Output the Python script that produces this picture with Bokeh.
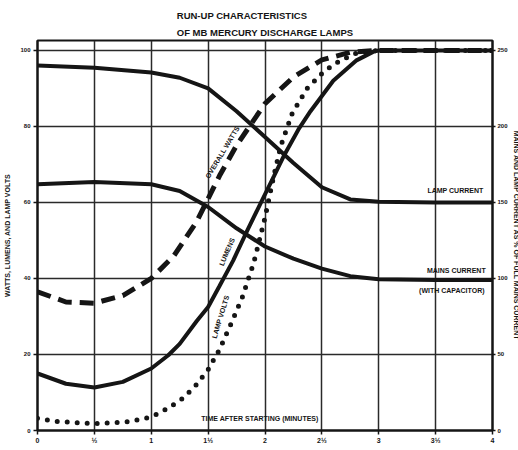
from bokeh.plotting import figure
from bokeh.models import Range1d, LinearAxis, FixedTicker, Label, Title
from bokeh.embed import file_html
from bokeh.resources import INLINE

# ---------------- data ----------------
# time after starting (minutes)
x_ticks = [0, 0.5, 1, 1.5, 2, 2.5, 3, 3.5, 4]
x_tick_labels = ["0", "½", "1", "1½", "2", "2½", "3", "3½", "4"]
left_ticks = [0, 20, 40, 60, 80, 100]
right_ticks = [0, 50, 100, 150, 200, 250]

# overall watts (% , left axis) - dashed
watts_t = [0, 0.25, 0.5, 0.75, 1.0, 1.2, 1.4, 1.5, 1.6, 1.75, 2.0, 2.25, 2.5, 2.75, 3.0, 4.0]
watts_v = [36.5, 33.8, 33.5, 35.5, 40, 46, 55, 61, 67, 75, 86, 93, 97.5, 99.5, 100, 100]

# lumens (% , left axis) - solid
lumens_t = [0, 0.25, 0.5, 0.75, 1.0, 1.15, 1.25, 1.4, 1.5, 1.6, 1.72, 1.85, 1.96, 2.08,
            2.17, 2.3, 2.4, 2.6, 2.8, 2.95, 3.0, 4.0]
lumens_v = [15, 12.3, 11.3, 12.8, 16.3, 19.8, 22.8, 28.8, 32.5, 38, 44.7, 53, 59.7, 67,
            72.5, 79.5, 84, 92, 97.3, 99.6, 100, 100]

# lamp volts (% , left axis) - dotted
volts_t = [0, 0.15, 0.5, 0.8, 0.95, 1.05, 1.15, 1.28, 1.39, 1.5, 1.6, 1.7, 1.8, 1.9, 2.0,
           2.07, 2.14, 2.24, 2.37, 2.52, 2.66, 2.8, 3.0, 4.0]
volts_v = [3.2, 2.4, 1.8, 2.3, 3.2, 4.3, 5.9, 8.5, 11.8, 16, 21.3, 28, 35, 44, 56,
           66, 75, 83.5, 90, 94.5, 97.3, 99.2, 100, 100]

# lamp current (% of full mains current, right axis) - solid
lampcur_t = [0, 0.5, 1.0, 1.25, 1.5, 1.75, 2.0, 2.25, 2.5, 2.75, 3.0, 3.5, 4.0]
lampcur_v = [240, 238.5, 235.5, 232, 225, 210, 193, 176, 160, 152, 150.5, 150, 150]

# mains current with capacitor (% , right axis) - solid
mains_t = [0, 0.5, 1.0, 1.25, 1.5, 1.75, 2.0, 2.25, 2.5, 2.75, 3.0, 3.5, 4.0]
mains_v = [162, 163.5, 162, 157.5, 147, 133, 121, 113, 106.5, 101.5, 99.5, 99, 99]

FONT = "Liberation Sans"
INK = "#151515"

p = figure(frame_width=455, frame_height=390, x_range=Range1d(0, 4), y_range=Range1d(0, 102.6),
           output_backend="svg", toolbar_location=None,
           min_border_left=37, min_border_right=24, min_border_top=40, min_border_bottom=18)
p.extra_y_ranges = {"cur": Range1d(0, 256.5)}

p.title = Title(text="RUN-UP CHARACTERISTICS\nOF MB MERCURY DISCHARGE LAMPS",
                align="center", text_font=FONT, text_font_style="bold",
                text_font_size="9.5px", text_color=INK, standoff=4, text_line_height=1.55)

p.outline_line_color = INK
p.outline_line_width = 2
p.background_fill_color = "white"
p.border_fill_color = "white"

# axes
def style_axis(ax, size="6px"):
    ax.major_tick_out = 4
    ax.major_tick_in = 0
    ax.minor_tick_out = 0
    ax.minor_tick_in = 0
    ax.major_tick_line_color = INK
    ax.major_tick_line_width = 1.5
    ax.axis_line_color = INK
    ax.axis_line_width = 2
    ax.major_label_text_font = FONT
    ax.major_label_text_font_style = "bold"
    ax.major_label_text_font_size = size
    ax.major_label_text_color = INK
    ax.axis_label_text_font = FONT
    ax.axis_label_text_font_style = "bold"
    ax.axis_label_text_color = INK

xa = p.xaxis[0]
xa.ticker = FixedTicker(ticks=x_ticks)
xa.major_label_overrides = {t: l for t, l in zip(x_ticks, x_tick_labels)}
style_axis(xa, "7px")
xa.major_label_standoff = 2

ya = p.yaxis[0]
ya.ticker = FixedTicker(ticks=left_ticks)
style_axis(ya)
ya.major_label_standoff = 3
ya.axis_label = "WATTS, LUMENS, AND LAMP VOLTS"
ya.axis_label_text_font_size = "7px"
ya.axis_label_standoff = 6

ra = LinearAxis(y_range_name="cur", ticker=FixedTicker(ticks=right_ticks))
style_axis(ra)
ra.major_tick_out = 3
ra.major_label_standoff = 2
ra.axis_label = "MAINS AND LAMP CURRENT AS % OF FULL MAINS CURRENT"
ra.axis_label_text_font_size = "7px"
ra.axis_label_standoff = 2
p.add_layout(ra, "right")

# grid
p.xgrid.ticker = FixedTicker(ticks=x_ticks)
p.ygrid.ticker = FixedTicker(ticks=left_ticks)
for g in (p.xgrid[0], p.ygrid[0]):
    g.grid_line_color = "#2a2a2a"
    g.grid_line_width = 1.5
    g.grid_line_alpha = 1.0

# curves
p.line(watts_t, watts_v, line_color=INK, line_width=5, line_dash="14 8")
p.line(volts_t, volts_v, line_color=INK, line_width=5, line_dash="0 10", line_cap="round")
p.line(lumens_t, lumens_v, line_color=INK, line_width=4)
p.line(lampcur_t, lampcur_v, line_color=INK, line_width=4, y_range_name="cur")
p.line(mains_t, mains_v, line_color=INK, line_width=4, y_range_name="cur")

# in-plot labels
def lab(x, y, text, angle=0.0, align="left", rng="default"):
    p.add_layout(Label(x=x, y=y, text=text, angle=angle, angle_units="deg",
                       text_align=align, text_baseline="middle", y_range_name=rng,
                       text_font=FONT, text_font_style="bold", text_font_size="7px",
                       text_color=INK))

lab(3.92, 158, "LAMP CURRENT", align="right", rng="cur")
lab(3.94, 105.5, "MAINS CURRENT", align="right", rng="cur")
lab(3.93, 92, "(WITH CAPACITOR)", align="right", rng="cur")
lab(1.44, 3.2, "TIME AFTER STARTING (MINUTES)")
lab(1.626, 73.2, "OVERALL WATTS", angle=59, align="center")
lab(1.665, 47.0, "LUMENS", angle=67, align="center")
lab(1.609, 29.9, "LAMP VOLTS", angle=73, align="center")

open("out.html", "w").write(file_html(p, INLINE))
